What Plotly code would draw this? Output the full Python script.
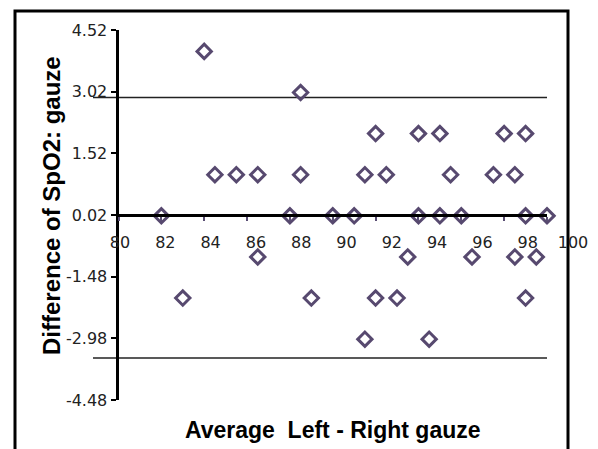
import plotly.graph_objects as go

# ---- data ----
avg_spo2 = [82, 83, 84, 84.5, 85.5, 86.5, 86.5, 88, 88.5, 88.5, 89, 90, 91, 91.5, 91.5,
            92, 92, 92.5, 93, 93.5, 94, 94, 94.5, 95, 95, 95.5, 96, 96.5, 97.5, 98,
            98.5, 98.5, 99, 99, 99, 99.5, 100]
diff_spo2 = [0, -2, 4, 1, 1, 1, -1, 0, 1, 3, -2, 0, 0, 1, -3,
             2, -2, 1, -2, -1, 2, 0, -3, 2, 0, 1, 0, -1, 1, 2,
             -1, 1, 2, 0, -2, -1, 0]
upper_limit = 2.88
lower_limit = -3.46
y_tick_vals = [-4.48, -2.98, -1.48, 0.02, 1.52, 3.02, 4.52]
y_tick_text = ["-4.48", "-2.98", "-1.48", "0.02", "1.52", "3.02", "4.52"]
x_tick_vals = [80, 82, 84, 86, 88, 90, 92, 94, 96, 98, 100]
x_tick_text = [str(v) for v in x_tick_vals]
x_title = "Average  Left - Right gauze"
y_title = "Difference of SpO2: gauze"

# page body has an 8px margin; the figure is sized to fill the rest of the window
OFF = 8
W, H = 598 - OFF, 449 - OFF


def px_x(p):
    return (p - OFF) / W


def px_y(p):
    return 1 - (p - OFF) / H


# plot area in window pixels
px_left, px_right = 118.5, 547.0
px_top, px_bottom = 30.0, 400.0
y_range = [-4.48, 4.52]
x_range = [80, 100]
x_cross = 0.02

ydom = [px_y(px_bottom), px_y(px_top)]
xdom = [px_x(px_left), px_x(px_right)]
x_pos = ydom[0] + (x_cross - y_range[0]) / (y_range[1] - y_range[0]) * (ydom[1] - ydom[0])

# label axis (tick labels in the reference are spread slightly wider than the ticks)
lab_px80, lab_px100 = 120.0, 573.0
lab_scale = (lab_px100 - lab_px80) / (x_range[1] - x_range[0])
lab_dom_px = [100.0, 588.0]
lab_range = [80 + (lab_dom_px[0] - lab_px80) / lab_scale, 80 + (lab_dom_px[1] - lab_px80) / lab_scale]

mcol = "#57496f"

fig = go.Figure()
fig.add_trace(go.Scatter(
    x=avg_spo2, y=diff_spo2, mode="markers",
    marker=dict(symbol="diamond-open", size=11, color=mcol, line=dict(width=3, color=mcol)),
    showlegend=False, hoverinfo="x+y", cliponaxis=False,
))
fig.add_trace(go.Scatter(x=x_tick_vals, y=[None] * len(x_tick_vals), xaxis="x2", yaxis="y",
                         mode="markers", showlegend=False, hoverinfo="skip"))

# frame
fig.add_shape(type="rect", xref="paper", yref="paper", x0=px_x(15), x1=px_x(568), y0=-0.2, y1=px_y(11),
              line=dict(color="black", width=3), fillcolor="rgba(0,0,0,0)", layer="below")
# limits of agreement
for v in (upper_limit, lower_limit):
    fig.add_shape(type="line", xref="paper", yref="y", x0=px_x(93), x1=px_x(px_right), y0=v, y1=v,
                  line=dict(color="#222222", width=1.5), layer="below")

tick_font = dict(family="DejaVu Sans", size=16, color="#222222")
x_title_font = dict(family="Liberation Sans", size=23, color="black")
y_title_font = dict(family="Liberation Sans", size=24, color="black")

fig.add_annotation(text="<b>" + y_title + "</b>", xref="paper", yref="paper",
                   x=px_x(51), y=px_y(206), textangle=-90, showarrow=False,
                   font=y_title_font, xanchor="center", yanchor="middle")

fig.update_layout(
    width=W, height=H,
    margin=dict(l=0, r=0, t=0, b=0),
    paper_bgcolor="white", plot_bgcolor="rgba(0,0,0,0)",
    xaxis=dict(domain=xdom, range=x_range, anchor="free", position=x_pos,
               showline=True, linecolor="black", linewidth=3,
               ticks="outside", ticklen=4, tickwidth=2, tickcolor="#5a4e74",
               tickvals=x_tick_vals, showticklabels=False,
               showgrid=False, zeroline=False, automargin=False,
               title=dict(text="<b>" + x_title + "</b>", font=x_title_font, standoff=201)),
    xaxis2=dict(domain=[px_x(lab_dom_px[0]), px_x(lab_dom_px[1])], range=lab_range,
                anchor="free", position=x_pos, showline=False, ticks="outside", ticklen=13,
                tickcolor="rgba(0,0,0,0)", tickvals=x_tick_vals, ticktext=x_tick_text,
                tickfont=tick_font, showgrid=False, zeroline=False, automargin=False),
    yaxis=dict(domain=ydom, range=y_range, anchor="x",
               showline=True, linecolor="black", linewidth=3,
               ticks="outside", ticklen=5, tickwidth=2, tickcolor="black",
               tickvals=y_tick_vals, ticktext=y_tick_text, tickfont=tick_font,
               showgrid=False, zeroline=False, automargin=False),
)

fig.write_html("out.html")
